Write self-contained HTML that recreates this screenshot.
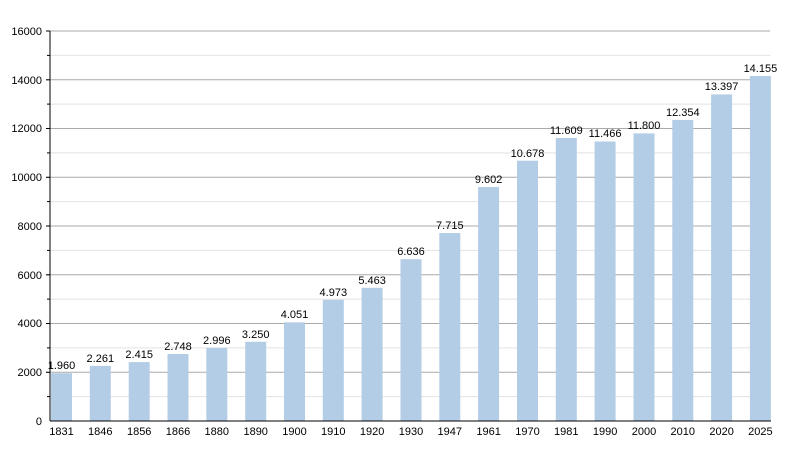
<!DOCTYPE html>
<html><head><meta charset="utf-8"><style>body{margin:0;background:#fff}svg{display:block;font-family:"Liberation Sans",sans-serif}</style></head><body>
<svg width="800" height="450" viewBox="0 0 800 450">
<g stroke="#e2e2e2" stroke-width="1">
<line x1="50" x2="770" y1="396.6" y2="396.6"/><line x1="50" x2="770" y1="347.9" y2="347.9"/><line x1="50" x2="770" y1="299.1" y2="299.1"/><line x1="50" x2="770" y1="250.4" y2="250.4"/><line x1="50" x2="770" y1="201.6" y2="201.6"/><line x1="50" x2="770" y1="152.9" y2="152.9"/><line x1="50" x2="770" y1="104.1" y2="104.1"/><line x1="50" x2="770" y1="55.4" y2="55.4"/>
</g>
<g stroke="#aaa" stroke-width="1">
<line x1="46" x2="770" y1="372.3" y2="372.3"/><line x1="46" x2="770" y1="323.5" y2="323.5"/><line x1="46" x2="770" y1="274.8" y2="274.8"/><line x1="46" x2="770" y1="226" y2="226"/><line x1="46" x2="770" y1="177.3" y2="177.3"/><line x1="46" x2="770" y1="128.5" y2="128.5"/><line x1="46" x2="770" y1="79.8" y2="79.8"/><line x1="46" x2="770" y1="31" y2="31"/>
</g>
<g stroke="#000"><line x1="47" x2="50" y1="396.6" y2="396.6"/><line x1="47" x2="50" y1="347.9" y2="347.9"/><line x1="47" x2="50" y1="299.1" y2="299.1"/><line x1="47" x2="50" y1="250.4" y2="250.4"/><line x1="47" x2="50" y1="201.6" y2="201.6"/><line x1="47" x2="50" y1="152.9" y2="152.9"/><line x1="47" x2="50" y1="104.1" y2="104.1"/><line x1="47" x2="50" y1="55.4" y2="55.4"/>
<line x1="46" x2="50" y1="372.3" y2="372.3"/><line x1="46" x2="50" y1="323.5" y2="323.5"/><line x1="46" x2="50" y1="274.8" y2="274.8"/><line x1="46" x2="50" y1="226" y2="226"/><line x1="46" x2="50" y1="177.3" y2="177.3"/><line x1="46" x2="50" y1="128.5" y2="128.5"/><line x1="46" x2="50" y1="79.8" y2="79.8"/><line x1="46" x2="50" y1="31" y2="31"/></g>
<g fill="#b3cde6">
<rect x="51" y="373.2" width="21" height="47.8"/><rect x="89.8" y="365.9" width="21" height="55.1"/><rect x="128.7" y="362.1" width="21" height="58.9"/><rect x="167.5" y="354" width="21" height="67"/><rect x="206.3" y="348" width="21" height="73"/><rect x="245.2" y="341.8" width="21" height="79.2"/><rect x="284" y="322.3" width="21" height="98.7"/><rect x="322.8" y="299.8" width="21" height="121.2"/><rect x="361.6" y="287.8" width="21" height="133.2"/><rect x="400.5" y="259.2" width="21" height="161.8"/><rect x="439.3" y="233" width="21" height="188"/><rect x="478.1" y="187" width="21" height="234"/><rect x="517" y="160.7" width="21" height="260.3"/><rect x="555.8" y="138" width="21" height="283"/><rect x="594.6" y="141.5" width="21" height="279.5"/><rect x="633.5" y="133.4" width="21" height="287.6"/><rect x="672.3" y="119.9" width="21" height="301.1"/><rect x="711.1" y="94.4" width="21" height="326.6"/><rect x="749.9" y="76" width="21" height="345"/>
</g>
<line x1="50" x2="50" y1="31" y2="421" stroke="#000"/>
<line x1="50" x2="771" y1="421" y2="421" stroke="#000"/>
<g font-size="11" fill="#000" text-anchor="end">
<text x="42" y="425">0</text><text x="42" y="376">2000</text><text x="42" y="327">4000</text><text x="42" y="279">6000</text><text x="42" y="230">8000</text><text x="42" y="181">10000</text><text x="42" y="132">12000</text><text x="42" y="84">14000</text><text x="42" y="35">16000</text>
</g>
<g font-size="11" fill="#000" text-anchor="middle">
<text x="61.5" y="369">1.960</text><text x="100.3" y="362">2.261</text><text x="139.2" y="358">2.415</text><text x="178" y="350">2.748</text><text x="216.8" y="344">2.996</text><text x="255.7" y="338">3.250</text><text x="294.5" y="318">4.051</text><text x="333.3" y="296">4.973</text><text x="372.1" y="284">5.463</text><text x="411" y="255">6.636</text><text x="449.8" y="229">7.715</text><text x="488.6" y="183">9.602</text><text x="527.5" y="157">10.678</text><text x="566.3" y="134">11.609</text><text x="605.1" y="137">11.466</text><text x="644" y="129">11.800</text><text x="682.8" y="116">12.354</text><text x="721.6" y="90">13.397</text><text x="760.4" y="72">14.155</text>
</g>
<g font-size="11" fill="#000" text-anchor="middle">
<text x="61.5" y="435">1831</text><text x="100.3" y="435">1846</text><text x="139.2" y="435">1856</text><text x="178" y="435">1866</text><text x="216.8" y="435">1880</text><text x="255.7" y="435">1890</text><text x="294.5" y="435">1900</text><text x="333.3" y="435">1910</text><text x="372.1" y="435">1920</text><text x="411" y="435">1930</text><text x="449.8" y="435">1947</text><text x="488.6" y="435">1961</text><text x="527.5" y="435">1970</text><text x="566.3" y="435">1981</text><text x="605.1" y="435">1990</text><text x="644" y="435">2000</text><text x="682.8" y="435">2010</text><text x="721.6" y="435">2020</text><text x="760.4" y="435">2025</text>
</g>
</svg>
</body></html>
